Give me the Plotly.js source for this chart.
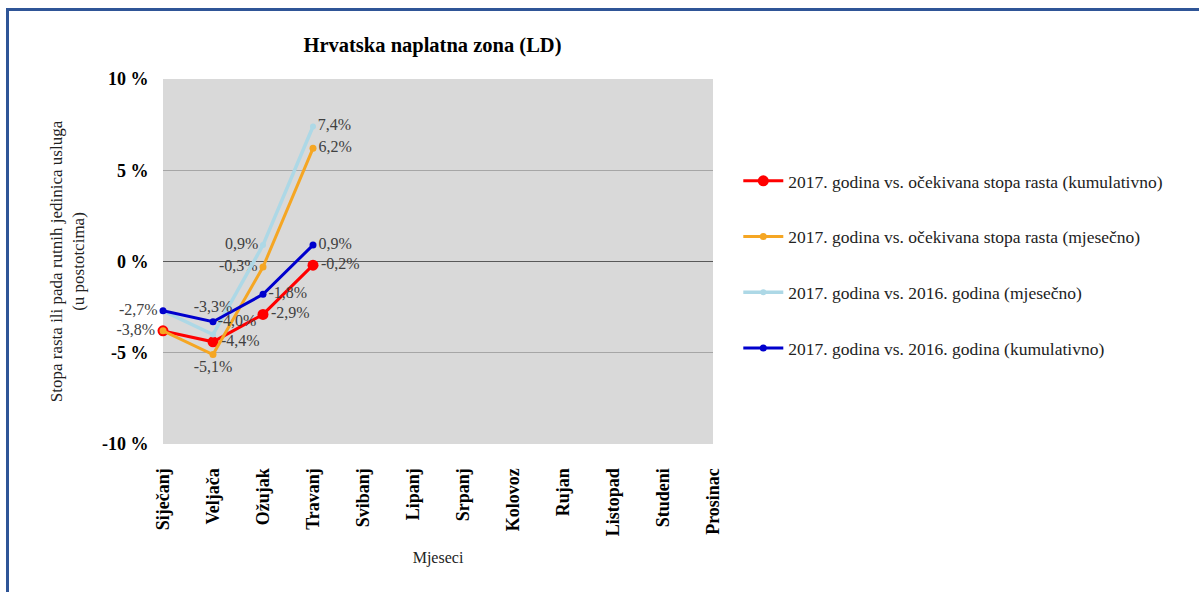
<!DOCTYPE html>
<html>
<head>
<meta charset="utf-8">
<script src="https://cdn.plot.ly/plotly-3.0.1.min.js"></script>
<style>
  html, body { margin: 0; padding: 0; background: #ffffff; }
  #chart { width: 1199px; height: 592px; }
  #frame { position: absolute; left: 6px; top: 8px; width: 1300px; height: 700px;
           border-top: 3px solid #2f5597; border-left: 3px solid #2f5597; pointer-events: none; }
</style>
</head>
<body>
<div id="chart"></div>
<div id="frame"></div>
<script>
const months = ["Siječanj","Veljača","Ožujak","Travanj","Svibanj","Lipanj","Srpanj","Kolovoz","Rujan","Listopad","Studeni","Prosinac"];

const seriesNames = [
  "2017. godina vs. očekivana stopa rasta (kumulativno)",
  "2017. godina vs. očekivana stopa rasta (mjesečno)",
  "2017. godina vs. 2016. godina (mjesečno)",
  "2017. godina vs. 2016. godina (kumulativno)"
];

const expCumulative = [-3.8, -4.4, -2.9, -0.2];
const expMonthly    = [-3.8, -5.1, -0.3, 6.2];
const yoyMonthly    = [-2.7, -4.0, 0.9, 7.4];
const yoyCumulative = [-2.7, -3.3, -1.8, 0.9];

// which point labels are shown (duplicates at January hidden)
const showExpCum = [true, true, true, true];
const showExpMon = [false, true, true, true];
const showYoyMon = [false, true, true, true];
const showYoyCum = [true, true, true, true];

const yTickVals = [-10, -5, 0, 5, 10];
const yTickText = ["-10 %", "-5 %", "0 %", "5 %", "10 %"];

const fmt = v => v.toFixed(1).replace('.', ',') + '%';
const labels = (vals, show) => vals.map((v, i) => show[i] ? fmt(v) : '');

const labelFont = {family: "Liberation Serif", size: 16, color: "#404040"};
const xs = months.slice(0, 4);

function mk(name, vals, show, color, width, msize, pos, group) {
  return {
    type: "scatter", mode: "lines+markers+text", name: name, x: xs, y: vals,
    text: labels(vals, show), textposition: pos, textfont: labelFont,
    line: {color: color, width: width}, marker: {color: color, size: msize},
    legendgroup: group, cliponaxis: false
  };
}

const traces = [
  mk(seriesNames[0], expCumulative, showExpCum, "#ff0000", 3, 11,
     ["middle left", "middle right", "middle right", "middle right"], "a"),
  mk(seriesNames[1], expMonthly, showExpMon, "#f5a623", 3, 7,
     ["middle left", "bottom center", "middle left", "middle right"], "b"),
  mk(seriesNames[2], yoyMonthly, showYoyMon, "#add8e6", 3.5, 6,
     ["middle left", "top right", "middle left", "middle right"], "c"),
  mk(seriesNames[3], yoyCumulative, showYoyCum, "#0000cd", 3, 7,
     ["middle left", "top center", "middle right", "middle right"], "d")
];

const layout = {
  width: 1199, height: 592,
  margin: {l: 163, r: 486, t: 79, b: 148, pad: 0},
  paper_bgcolor: "rgba(0,0,0,0)",
  plot_bgcolor: "#d9d9d9",
  font: {family: "Liberation Serif", color: "#000000"},
  title: {text: "<b>Hrvatska naplatna zona (LD)</b>", font: {family: "Liberation Serif", size: 20.5, color: "#000"},
          x: 0.49, xref: "paper", xanchor: "center", y: 0.925, yref: "container", yanchor: "middle"},
  xaxis: {
    type: "category", categoryorder: "array", categoryarray: months,
    range: [0, 11], tickangle: -90, showgrid: false, zeroline: false,
    tickfont: {family: "Liberation Serif", size: 18, color: "#000"},
    ticks: "outside", ticklen: 16, tickcolor: "rgba(0,0,0,0)",
    tickvals: months, ticktext: months.map(m => "<b>" + m + "</b>"),
    title: {text: "Mjeseci", font: {family: "Liberation Serif", size: 16, color: "#222"}, standoff: 16},
    fixedrange: true
  },
  yaxis: {
    range: [-10, 10], tickvals: yTickVals, ticktext: yTickText.map(t => "<b>" + t + "</b>"),
    tickfont: {family: "Liberation Serif", size: 18, color: "#000"},
    showgrid: true, gridcolor: "#a6a6a6", gridwidth: 1,
    zeroline: true, zerolinecolor: "#595959", zerolinewidth: 1.5,
    ticks: "outside", ticklen: 10, tickcolor: "rgba(0,0,0,0)",
    title: {text: "Stopa rasta ili pada rutnih jedinica usluga<br>(u postotcima)",
            font: {family: "Liberation Serif", size: 17, color: "#222"}, standoff: 12},
    fixedrange: true
  },
  showlegend: true,
  legend: {
    x: 1.046, xanchor: "left", y: 0.77, yanchor: "top",
    font: {family: "Liberation Serif", size: 17.5, color: "#222"},
    traceorder: "grouped", tracegroupgap: 30, itemwidth: 40,
    bgcolor: "rgba(0,0,0,0)"
  }
};

Plotly.newPlot("chart", traces, layout, {staticPlot: true, displayModeBar: false});
</script>
</body>
</html>
